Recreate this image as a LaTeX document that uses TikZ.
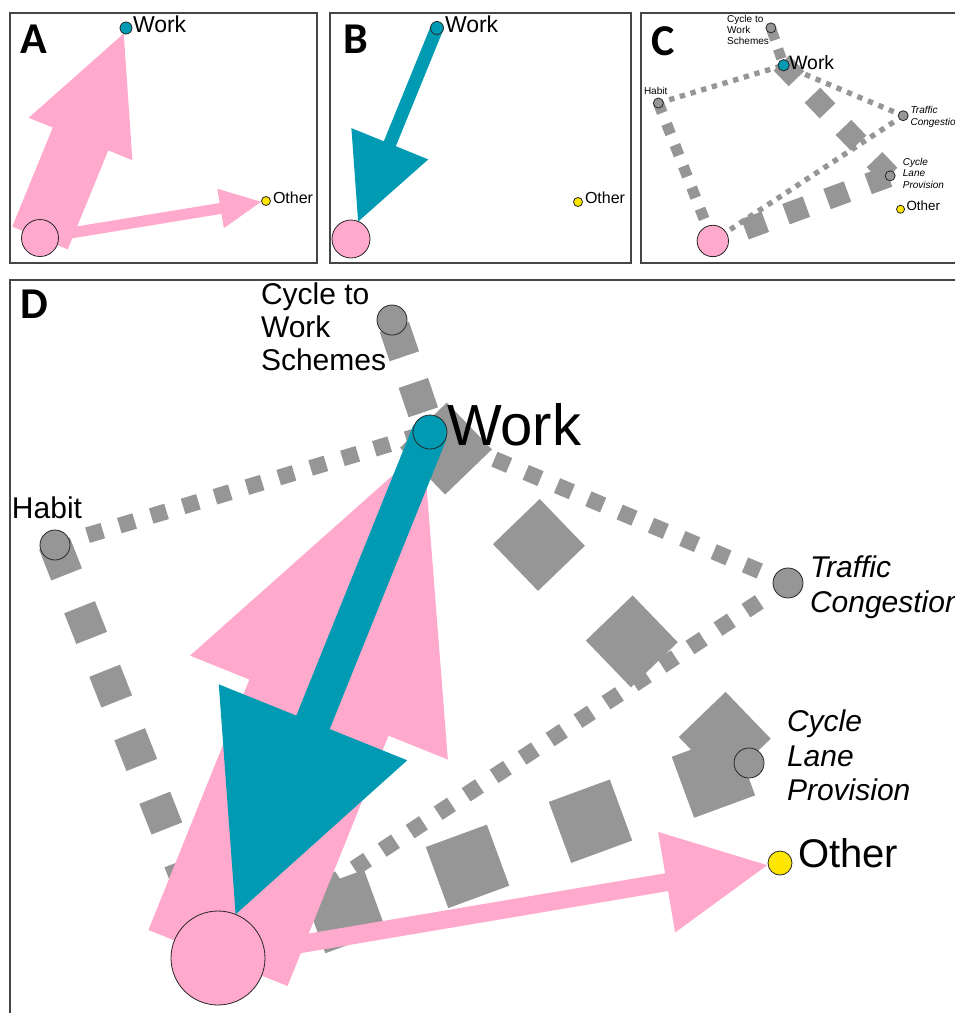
\documentclass[tikz,border=0pt]{standalone}
\usepackage{fontspec}
\setmainfont{Liberation Sans}
\newfontfamily\panelfont{Carlito}
\usetikzlibrary{calc}

\pgfdeclarelayer{paper}
\pgfdeclarelayer{ties}
\pgfdeclarelayer{arrows}
\pgfsetlayers{paper,ties,arrows,main}

\definecolor{egopink}{RGB}{255,170,204}
\definecolor{workteal}{RGB}{0,155,178}
\definecolor{othergold}{RGB}{255,230,0}
\definecolor{tiegray}{RGB}{150,150,150}
\definecolor{framegray}{RGB}{70,70,70}

\tikzset{
  actor/.style={circle, draw=black!85, line width=0.8pt, inner sep=0pt, outer sep=0pt, minimum size=#1},
  tiesq/.style={rectangle, fill=tiegray, draw=none, inner sep=0pt, outer sep=0pt, minimum size=#1},
  txt/.style={inner sep=0pt, outer sep=0pt, text=black},
  panel/.style={draw=framegray, line width=1.5pt},
  letter/.style={txt, anchor=base west, font=\panelfont\bfseries\fontsize{44}{44}\selectfont},
}

% Broad arrow from #1 to #2: colour #3, shaft half-width #4,
% head base at distance #5 from #1, head half-width #6, tip at distance #7.
\newcommand\fatarrow[7]{%
  \fill[#3] ($(#1.center)!#4!90:(#2.center)$)
    -- ($(#1.center)!#5!(#2.center)!#4!90:(#2.center)$)
    -- ($(#1.center)!#5!(#2.center)!#6!90:(#2.center)$)
    -- ($(#1.center)!#7!(#2.center)$)
    -- ($(#1.center)!#5!(#2.center)!#6!-90:(#2.center)$)
    -- ($(#1.center)!#5!(#2.center)!#4!-90:(#2.center)$)
    -- ($(#1.center)!#4!-90:(#2.center)$) -- cycle;}

% Row of grey squares from #1 to #2: side #3, first position #4,
% spacing #5 (fractions of the distance), last index #6.
\newcommand\tieline[6]{%
  \foreach \k in {0,...,#6}{%
    \pgfmathsetmacro\tiepos{#4+#5*\k}%
    \path (#1.center) -- (#2.center) node[tiesq=#3, pos=\tiepos, sloped] {};%
  }%
}

% The ego network with its attribute nodes
\newcommand\network{%
  \node[actor=94pt, fill=egopink] (ego) at (218,958) {};
  \node[actor=34pt, fill=workteal] (work) at (430,432) {};
  \node[actor=24pt, fill=othergold] (other) at (780,863) {};
  \node[actor=30pt, fill=tiegray] (ctws) at (392,320) {};
  \node[actor=30pt, fill=tiegray] (habit) at (55,545) {};
  \node[actor=30pt, fill=tiegray] (traffic) at (788,583) {};
  \node[actor=30pt, fill=tiegray] (clp) at (749,763) {};
  \node[txt, anchor=base west, font=\fontsize{58}{58}\selectfont] (work-label) at (447,445) {Work};
  \node[txt, anchor=base west, font=\fontsize{40}{40}\selectfont] (other-label) at (798,867) {Other};
  \node[txt, anchor=base west, font=\fontsize{30}{30}\selectfont] (habit-label) at (12,518) {Habit};
  \node[txt, anchor=north west, align=left, font=\fontsize{30}{33}\selectfont] (ctws-label) at (261,283) {Cycle to\\Work\\Schemes};
  \node[txt, anchor=north west, align=left, font=\itshape\fontsize{30}{35}\selectfont] (traffic-label) at (810,556) {Traffic\\Congestion};
  \node[txt, anchor=north west, align=left, font=\itshape\fontsize{30}{34.5}\selectfont] (clp-label) at (787,710) {Cycle\\Lane\\Provision};
  \begin{pgfonlayer}{ties}
    \tieline{habit}{work}{16pt}{0.107}{0.085}{10}
    \tieline{work}{traffic}{16pt}{0.113}{0.0875}{9}
    \tieline{traffic}{ego}{16pt}{0.062}{0.0491}{18}
    \tieline{habit}{ego}{33pt}{0.034}{0.1538}{6}
    \tieline{ctws}{work}{31pt}{0.193}{0.5}{1}
    \tieline{work}{clp}{65pt}{0.05}{0.2913}{3}
    \tieline{ego}{clp}{65pt}{0.2385}{0.2315}{3}
  \end{pgfonlayer}
}

\begin{document}
\begin{tikzpicture}[x=1pt,y=-1pt]
\begin{pgfonlayer}{paper}
  \fill[white] (0,0) rectangle (955,1013);
\end{pgfonlayer}
\useasboundingbox (0,0) rectangle (955,1013);

% ---------- A ----------
\draw[panel] (10,13) rectangle (317,263);
\node[letter] (letterA) at (20,53) {A};
\node[actor=37pt, fill=egopink] (egoA) at (40,238) {};
\node[actor=12pt, fill=workteal] (workA) at (126,28) {};
\node[actor=9pt, fill=othergold] (otherA) at (266,201) {};
\node[txt, anchor=base west, font=\fontsize{23}{23}\selectfont] (workA-label) at (133,32) {Work};
\node[txt, anchor=base west, font=\fontsize{16}{16}\selectfont] (otherA-label) at (273,203) {Other};
\begin{pgfonlayer}{arrows}
  \fatarrow{egoA}{workA}{egopink}{30pt}{107pt}{56pt}{221pt}
  \fatarrow{egoA}{otherA}{egopink}{5.5pt}{183pt}{20pt}{224pt}
\end{pgfonlayer}

% ---------- B ----------
\draw[panel] (330,13) rectangle (631,263);
\node[letter] (letterB) at (343,53) {B};
\node[actor=38pt, fill=egopink] (egoB) at (351,239) {};
\node[actor=13pt, fill=workteal] (workB) at (437,28) {};
\node[actor=9pt, fill=othergold] (otherB) at (578,202) {};
\node[txt, anchor=base west, font=\fontsize{23}{23}\selectfont] (workB-label) at (445,32) {Work};
\node[txt, anchor=base west, font=\fontsize{16}{16}\selectfont] (otherB-label) at (585,203) {Other};
\begin{pgfonlayer}{arrows}
  \fatarrow{workB}{egoB}{workteal}{6.5pt}{125pt}{41.5pt}{209pt}
\end{pgfonlayer}

% ---------- C ----------
\draw[panel] (641,13) rectangle (965,263);
\node[letter] (letterC) at (651,55) {C};
\begin{scope}[shift={(640,-79)}, scale=0.334, transform shape, name prefix=c-]
  \network
\end{scope}

% ---------- D ----------
\draw[panel] (10,280) rectangle (965,1025);
\node[letter] (letterD) at (20,318) {D};
\begin{scope}[name prefix=d-]
  \network
\end{scope}
\begin{pgfonlayer}{arrows}
  \fatarrow{d-ego}{d-work}{egopink}{75pt}{270pt}{139pt}{550pt}
  \fatarrow{d-ego}{d-other}{egopink}{9pt}{455pt}{51pt}{557pt}
  \fatarrow{d-work}{d-ego}{workteal}{18pt}{313pt}{101.6pt}{520pt}
\end{pgfonlayer}
\end{tikzpicture}
\end{document}
